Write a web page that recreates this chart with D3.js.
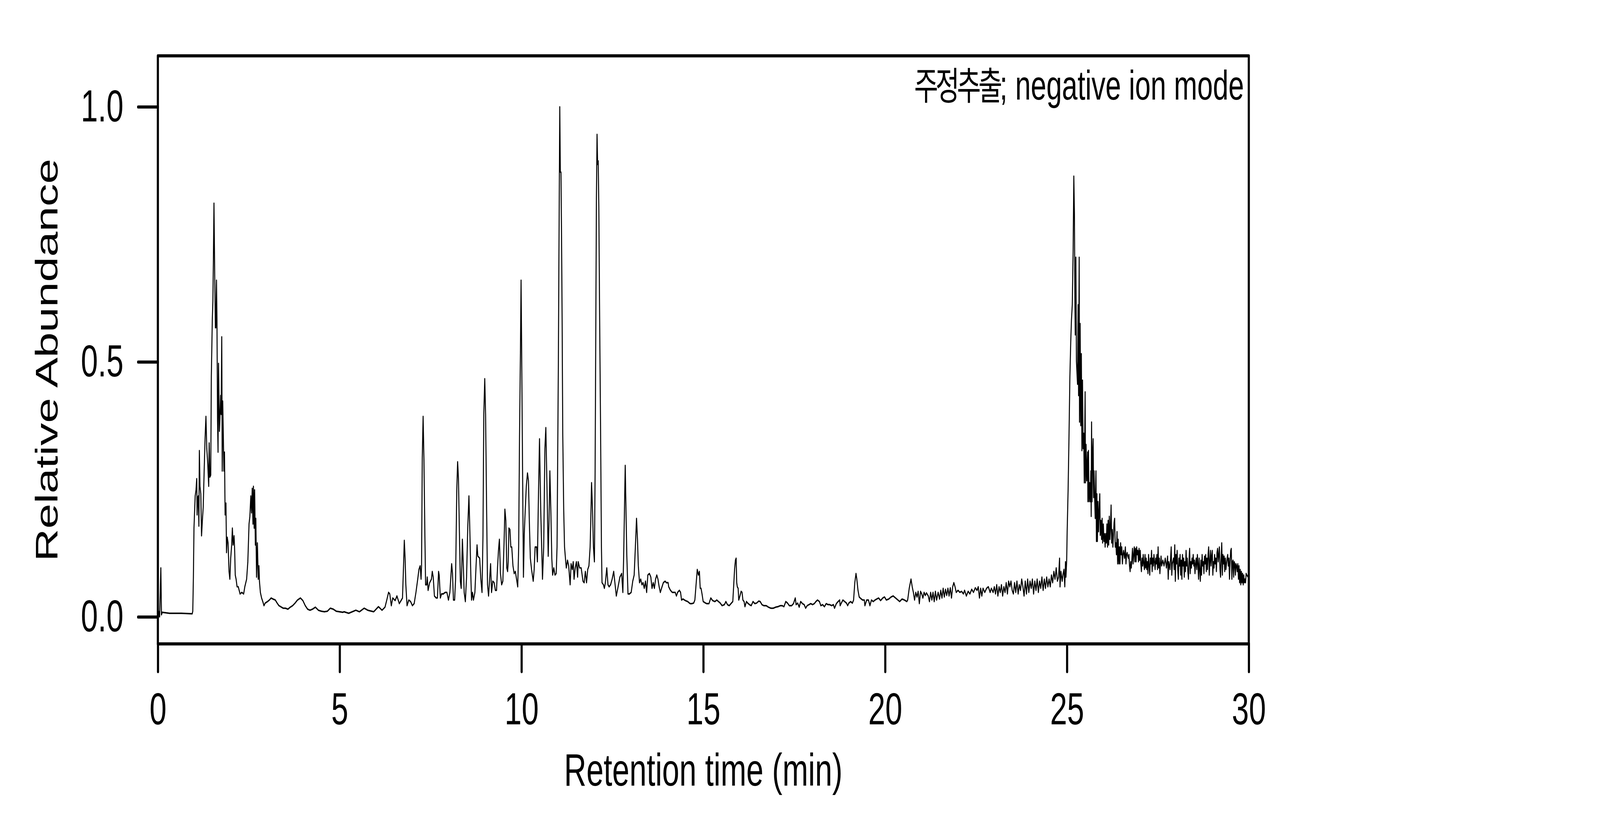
<!DOCTYPE html>
<html>
<head>
<meta charset="utf-8">
<script src="https://cdn.jsdelivr.net/npm/d3@7"></script>
<style>
  html, body { margin: 0; padding: 0; background: #fff; overflow: hidden; }
  svg { display: block; }
  text { font-family: "Liberation Sans", Arial, sans-serif; fill: #000; }
</style>
</head>
<body>
<div id="chart"></div>
<script>
// chromatogram trace, [retention time (min), relative abundance]
var earlyTrace = [
  [0.000,.004],[0.023,.011],[0.049,.000],[0.082,.096],[0.099,.004],[0.122,.009],[0.319,.007],[0.648,.007],
  [0.944,.006],[0.960,.011],[0.977,.078],[0.993,.174],[1.026,.237],[1.049,.249],[1.069,.271],[1.079,.200],
  [1.095,.234],[1.112,.237],[1.128,.178],[1.141,.326],[1.158,.256],[1.181,.241],[1.201,.159],[1.224,.189],
  [1.247,.215],[1.273,.286],[1.299,.352],[1.322,.393],[1.345,.330],[1.372,.300],[1.398,.256],[1.411,.341],
  [1.431,.274],[1.454,.278],[1.470,.471],[1.497,.582],[1.513,.619],[1.526,.694],[1.543,.811],[1.563,.671],
  [1.582,.567],[1.595,.567],[1.612,.660],[1.625,.582],[1.641,.386],[1.655,.323],[1.668,.497],[1.681,.427],
  [1.694,.364],[1.707,.389],[1.727,.434],[1.740,.397],[1.757,.549],[1.770,.286],[1.783,.423],[1.799,.360],
  [1.816,.286],[1.832,.323],[1.849,.200],[1.872,.223],[1.888,.126],[1.908,.156],[1.931,.145],[1.957,.089],
  [1.980,.074],[2.003,.115],[2.030,.141],[2.049,.174],[2.069,.141],[2.095,.159],[2.112,.130],[2.128,.082],
  [2.151,.074],[2.178,.059],[2.211,.059],[2.260,.045],[2.309,.048],[2.359,.045],[2.391,.059],[2.441,.074],
  [2.474,.108],[2.507,.182],[2.530,.197],[2.556,.237],[2.576,.204],[2.595,.252],[2.615,.182],[2.628,.256],
  [2.648,.174],[2.661,.249],[2.681,.141],[2.694,.193],[2.714,.078],[2.737,.145],[2.760,.074],[2.780,.100],
  [2.793,.070],[2.819,.048],[2.852,.037],[2.885,.030],[2.918,.022],[2.951,.027],[3.016,.030],[3.066,.033],
  [3.115,.037],[3.164,.035],[3.230,.033],[3.280,.027],[3.329,.022],[3.378,.020],[3.444,.017],[3.510,.017],
  [3.576,.015],[3.641,.019],[3.707,.022],[3.773,.027],[3.839,.033],[3.921,.037],[3.987,.032],[4.053,.022],
  [4.118,.015],[4.184,.013],[4.250,.015],[4.332,.019],[4.414,.013],[4.497,.011],[4.579,.010],[4.661,.011],
  [4.743,.017],[4.826,.015],[4.908,.011],[4.990,.010],[5.089,.009]
]
var midTrace = [
  [5.117,.010],[5.248,.007],[5.444,.013],[5.543,.010],[5.673,.017],[5.772,.013],[5.935,.010],[6.066,.020],
  [6.164,.013],[6.246,.019],[6.295,.033],[6.344,.048],[6.377,.045],[6.420,.022],[6.459,.037],[6.525,.032],
  [6.574,.041],[6.639,.026],[6.688,.032],[6.727,.037],[6.754,.096],[6.777,.150],[6.799,.115],[6.819,.063],
  [6.852,.022],[6.901,.033],[6.950,.030],[6.999,.022],[7.048,.026],[7.097,.048],[7.146,.074],[7.179,.093],
  [7.212,.100],[7.238,.074],[7.251,.100],[7.271,.312],[7.294,.393],[7.317,.308],[7.343,.159],[7.362,.063],
  [7.392,.063],[7.408,.078],[7.431,.052],[7.474,.067],[7.523,.074],[7.546,.089],[7.572,.078],[7.605,.041],
  [7.654,.037],[7.687,.037],[7.719,.089],[7.736,.082],[7.768,.037],[7.801,.045],[7.850,.045],[7.899,.048],
  [7.948,.048],[7.991,.033],[8.030,.048],[8.079,.104],[8.102,.085],[8.128,.033],[8.161,.033],[8.187,.074],
  [8.220,.249],[8.243,.304],[8.266,.271],[8.292,.167],[8.318,.070],[8.341,.056],[8.358,.100],[8.374,.152],
  [8.397,.108],[8.423,.048],[8.456,.030],[8.489,.078],[8.521,.174],[8.554,.237],[8.580,.167],[8.606,.082],
  [8.626,.033],[8.652,.048],[8.678,.033],[8.718,.048],[8.750,.100],[8.777,.141],[8.799,.119],[8.849,.115],
  [8.881,.074],[8.914,.048],[8.940,.159],[8.963,.397],[8.989,.467],[9.012,.397],[9.038,.226],[9.065,.063],
  [9.094,.041],[9.127,.078],[9.150,.104],[9.176,.048],[9.209,.070],[9.248,.067],[9.281,.052],[9.313,.052],
  [9.340,.096],[9.366,.130],[9.392,.152],[9.421,.085],[9.454,.063],[9.487,.070],[9.520,.145],[9.543,.211],
  [9.569,.189],[9.595,.096],[9.618,.089],[9.634,.108],[9.654,.174],[9.683,.171],[9.706,.137],[9.732,.137],
  [9.765,.100],[9.798,.085],[9.831,.089],[9.863,.074],[9.896,.059],[9.922,.137],[9.945,.352],[9.971,.523],
  [9.988,.660],[10.004,.523],[10.027,.308],[10.053,.078],[10.076,.163],[10.099,.204],[10.132,.256],[10.164,.282],
  [10.191,.267],[10.217,.182],[10.243,.115]
]
var peakTrace = [
  [10.276,.093],[10.322,.070],[10.348,.093],[10.374,.137],[10.414,.137],[10.437,.108],[10.463,.226],[10.495,.349],
  [10.528,.211],[10.577,.074],[10.610,.137],[10.643,.330],[10.669,.371],[10.702,.249],[10.734,.119],[10.757,.189],
  [10.780,.286],[10.806,.211],[10.833,.115],[10.856,.082],[10.888,.096],[10.921,.082],[10.954,.085],[10.977,.137],
  [10.996,.323],[11.013,.493],[11.029,.708],[11.052,1.000],[11.068,.872],[11.085,.872],[11.101,.746],[11.117,.582],
  [11.134,.360],[11.160,.211],[11.183,.137],[11.216,.108],[11.232,.096],[11.265,.111],[11.297,.100],[11.337,.063],
  [11.363,.104],[11.396,.093],[11.422,.108],[11.445,.074],[11.477,.096],[11.510,.108],[11.543,.078],[11.559,.108],
  [11.599,.096],[11.641,.096],[11.690,.070],[11.723,.067],[11.756,.089],[11.788,.067],[11.821,.093],[11.854,.100],
  [11.887,.137],[11.903,.182],[11.926,.263],[11.952,.211],[11.978,.137],[12.005,.108],[12.024,.286],[12.044,.582],
  [12.060,.820],[12.077,.946],[12.093,.887],[12.109,.894],[12.126,.805],[12.149,.582],[12.175,.360],[12.198,.137],
  [12.214,.067],[12.253,.063],[12.279,.056],[12.306,.067],[12.345,.096],[12.378,.063],[12.410,.059],[12.450,.063],
  [12.492,.074],[12.535,.089],[12.574,.063],[12.607,.041],[12.656,.059],[12.705,.078],[12.754,.085],[12.787,.048],
  [12.810,.122],[12.836,.230],[12.852,.297],[12.869,.226],[12.895,.122],[12.928,.045],[12.967,.045],[13.016,.048],
  [13.059,.070],[13.098,.082],[13.131,.137],[13.163,.193],[13.189,.152],[13.212,.100],[13.245,.067],[13.278,.074],
  [13.311,.063],[13.343,.067],[13.376,.056],[13.409,.070],[13.441,.048],[13.474,.082],[13.517,.085],[13.556,.078],
  [13.589,.056],[13.622,.067],[13.654,.056],[13.687,.074],[13.720,.082],[13.752,.074],[13.785,.059],[13.818,.048],
  [13.851,.056],[13.900,.067],[13.949,.070],[13.982,.067],[14.031,.067],[14.047,.059],[14.096,.052],[14.145,.048],
  [14.178,.048],[14.227,.048],[14.260,.041],[14.293,.048],[14.342,.052],[14.374,.048],[14.401,.033],[14.440,.035],
  [14.505,.032],[14.571,.030],[14.636,.026],[14.685,.026],[14.734,.027],[14.767,.033],[14.800,.063],[14.833,.093],
  [14.865,.082],[14.892,.089],[14.914,.056],[14.937,.056],[14.964,.045],[14.996,.030],[15.062,.027]
]
var lateTrace = [
  [15.090,.026],[15.155,.026],[15.205,.037],[15.254,.032],[15.319,.030],[15.368,.033],[15.417,.030],[15.466,.027],
  [15.516,.022],[15.581,.024],[15.620,.030],[15.663,.024],[15.712,.022],[15.761,.026],[15.810,.030],[15.836,.063],
  [15.859,.093],[15.882,.111],[15.902,.115],[15.918,.067],[15.934,.059],[15.957,.056],[15.974,.033],[16.006,.041],
  [16.039,.050],[16.065,.048],[16.088,.033],[16.121,.030],[16.144,.020],[16.186,.030],[16.219,.027],[16.268,.024],
  [16.317,.022],[16.366,.030],[16.416,.026],[16.465,.027],[16.524,.031],[16.563,.030],[16.612,.024],[16.661,.022],
  [16.727,.022],[16.792,.019],[16.857,.017],[16.923,.017],[16.988,.019],[17.054,.020],[17.119,.022],[17.168,.022],
  [17.217,.020],[17.267,.030],[17.316,.027],[17.365,.022],[17.430,.022],[17.479,.026],[17.528,.037],[17.551,.024],
  [17.594,.027],[17.636,.019],[17.676,.030],[17.725,.026],[17.774,.024],[17.813,.017],[17.856,.022],[17.905,.024],
  [17.954,.026],[18.003,.024],[18.052,.026],[18.095,.030],[18.140,.033],[18.193,.030],[18.232,.022],[18.281,.024],
  [18.330,.020],[18.379,.026],[18.428,.024],[18.477,.024],[18.527,.022],[18.576,.024],[18.608,.017],[18.658,.026],
  [18.707,.030],[18.749,.033],[18.762,.022],[18.788,.026],[18.838,.033],[18.887,.030],[18.936,.027],[18.969,.022],
  [19.001,.027],[19.050,.030],[19.099,.027],[19.132,.033],[19.165,.067],[19.198,.085],[19.221,.074],[19.253,.052],
  [19.286,.039],[19.329,.036],[19.378,.033],[19.427,.033],[19.443,.022],[19.492,.033],[19.541,.033],[19.581,.022],
  [19.623,.033],[19.672,.030],[19.721,.033],[19.770,.035],[19.820,.037],[19.875,.032],[19.934,.037],[19.983,.039],
  [20.032,.033],[20.098,.035],[20.163,.039]
]
var riseTrace = [
  [20.220,.041],[20.285,.037],[20.351,.033],[20.400,.030],[20.465,.035],[20.531,.033],[20.596,.030],[20.619,.033],
  [20.662,.056],[20.711,.074],[20.744,.059],[20.776,.048],[20.809,.033],[20.842,.048],[20.875,.039],[20.907,.050],
  [20.940,.026],[20.973,.050],[21.006,.045],[21.038,.037],[21.071,.048],[21.104,.042],[21.136,.047],[21.186,.041],
  [21.218,.030],[21.251,.048],[21.284,.033],[21.316,.048],[21.349,.030],[21.382,.050],[21.415,.033],[21.457,.048],
  [21.496,.035],[21.529,.052],[21.562,.037],[21.595,.056],[21.627,.039],[21.660,.054],[21.693,.042],[21.726,.056],
  [21.758,.041],[21.791,.057],[21.824,.037],[21.857,.059],[21.889,.067],[21.922,.059],[21.955,.048],[22.004,.052],
  [22.053,.048],[22.102,.050],[22.151,.045],[22.184,.052],[22.233,.041],[22.282,.050],[22.331,.045],[22.380,.054],
  [22.429,.048],[22.478,.057],[22.527,.052],[22.560,.059],[22.593,.037],[22.626,.056],[22.658,.041],[22.691,.056],
  [22.740,.048],[22.789,.056],[22.838,.059],[22.887,.048],[22.920,.056],[22.969,.048],[23.002,.059],[23.035,.045],
  [23.068,.063],[23.100,.041],[23.133,.059],[23.166,.048],[23.198,.063],[23.231,.041],[23.264,.059],[23.297,.048],
  [23.329,.067],[23.362,.045],[23.395,.070],[23.428,.059],[23.460,.070],[23.493,.052],[23.526,.045],[23.558,.067],
  [23.591,.048],[23.624,.070],[23.657,.045],[23.689,.063],[23.722,.052],[23.755,.074],[23.788,.059],[23.820,.041],
  [23.853,.070],[23.886,.045],[23.918,.074],[23.951,.048],[23.984,.070],[24.017,.056],[24.049,.074],[24.082,.045],
  [24.115,.070],[24.148,.052],[24.180,.074],[24.213,.048],[24.246,.070],[24.278,.056],[24.311,.078],[24.344,.052],
  [24.377,.074],[24.409,.056],[24.442,.078],[24.475,.059],[24.508,.074],[24.540,.059],[24.573,.082],[24.606,.067],
  [24.639,.089],[24.671,.074],[24.704,.096],[24.737,.070],[24.769,.078],[24.796,.115],[24.809,.059],[24.835,.089],
  [24.868,.070],[24.894,.085],[24.917,.093],[24.940,.059],[24.959,.108],[24.972,.078],[24.992,.111],[25.005,.167],
  [25.031,.249],[25.057,.360],[25.080,.471],[25.103,.538],[25.123,.582],[25.146,.612],[25.169,.716],[25.188,.864],
  [25.205,.790],[25.218,.619],[25.228,.553],[25.244,.705],[25.260,.501]
]
var tailTrace = [
  [25.290,.456],[25.306,.612],[25.319,.434],[25.336,.705],[25.345,.382],[25.362,.575],[25.378,.375],[25.395,.516],
  [25.411,.326],[25.427,.464],[25.444,.330],[25.460,.360],[25.476,.263],[25.486,.338],[25.499,.441],[25.509,.263],
  [25.525,.338],[25.542,.267],[25.568,.323],[25.575,.226],[25.591,.326],[25.607,.226],[25.624,.263],[25.640,.226],
  [25.656,.286],[25.666,.197],[25.676,.382],[25.689,.226],[25.705,.323],[25.719,.349],[25.732,.234],[25.745,.286],
  [25.764,.226],[25.777,.193],[25.797,.286],[25.810,.148],[25.823,.241],[25.836,.148],[25.853,.226],[25.869,.167],
  [25.886,.211],[25.902,.241],[25.915,.160],[25.935,.189],[25.951,.152],[25.967,.193],[25.980,.145],[26.000,.182],
  [26.016,.148],[26.033,.163],[26.049,.137],[26.066,.163],[26.082,.145],[26.098,.182],[26.115,.137],[26.131,.189],
  [26.147,.141],[26.164,.197],[26.180,.152],[26.196,.174],[26.213,.219],[26.229,.145],[26.246,.171],[26.262,.137],
  [26.278,.159],[26.295,.185],[26.311,.193],[26.327,.137],[26.344,.145],[26.360,.122],[26.376,.167],[26.393,.104],
  [26.409,.152],[26.426,.104],[26.442,.137],[26.458,.104],[26.475,.145],[26.491,.122],[26.507,.137],[26.524,.104],
  [26.540,.122],[26.556,.130],[26.583,.115],[26.606,.137],[26.622,.104],[26.638,.122],[26.655,.126],[26.671,.119],
  [26.687,.115],[26.704,.122],[26.720,.100],[26.736,.089],[26.753,.108],[26.769,.096],[26.786,.115],[26.802,.134],
  [26.818,.104],[26.835,.122],[26.851,.137],[26.867,.108],[26.884,.134],[26.900,.108],[26.916,.137],[26.933,.122],
  [26.949,.130],[26.966,.108],[26.982,.134],[26.998,.111],[27.015,.130],[27.031,.104],[27.047,.089],[27.064,.115],
  [27.080,.100],[27.096,.122],[27.113,.104],[27.129,.093],[27.146,.122],[27.162,.096],[27.178,.115],[27.195,.093],
  [27.211,.108],[27.227,.085],[27.244,.122],[27.260,.100],[27.276,.082],[27.293,.115],[27.309,.104],[27.326,.130],
  [27.342,.089],[27.358,.115],[27.375,.100],[27.391,.122],[27.407,.108],[27.424,.093],[27.440,.115],[27.456,.104],
  [27.473,.122],[27.489,.093],[27.506,.137],[27.522,.096],[27.538,.115],[27.555,.085],[27.571,.104],[27.587,.119],
  [27.604,.100],[27.636,.111],[27.669,.100],[27.702,.115],[27.735,.096],[27.767,.119],[27.784,.074],[27.800,.108],
  [27.833,.093],[27.849,.115],[27.866,.137],[27.882,.082],[27.898,.104],[27.931,.115],[27.947,.093],[27.964,.141],
  [27.980,.070],[27.996,.122],[28.013,.104],[28.029,.130],[28.046,.093],[28.062,.074],[28.078,.115],[28.095,.100],
  [28.111,.122],[28.127,.082],[28.144,.111],[28.160,.074],[28.176,.122],[28.193,.100],[28.209,.115],[28.226,.078],
  [28.242,.108],[28.258,.089],[28.275,.130],[28.291,.100],[28.307,.115],[28.324,.089],[28.340,.074],[28.356,.111],
  [28.373,.134],[28.389,.085],[28.406,.108],[28.422,.096],[28.438,.115],[28.455,.104],[28.471,.122],[28.487,.100],
  [28.504,.111],[28.520,.085],[28.536,.104],[28.553,.115],[28.569,.093],[28.586,.122],[28.602,.104],[28.618,.074],
  [28.635,.115],[28.651,.093],[28.667,.070],[28.684,.111],[28.700,.082],[28.716,.122],[28.733,.100],[28.749,.108],
  [28.766,.085],[28.782,.119],[28.798,.104],[28.815,.122],[28.831,.089],[28.847,.115],[28.864,.093],[28.880,.122],
  [28.896,.137],[28.913,.082],[28.929,.108],[28.946,.130],[28.962,.100],[28.978,.119],[28.995,.130],[29.011,.082],
  [29.027,.108],[29.044,.096],[29.060,.122],[29.076,.104],[29.093,.115],[29.109,.089],[29.126,.126],[29.142,.134],
  [29.158,.108],[29.175,.122],[29.191,.137],[29.207,.093],[29.224,.078],[29.240,.115],[29.256,.145],[29.273,.082],
  [29.289,.122],[29.306,.104],[29.322,.119],[29.338,.089],[29.355,.115],[29.371,.093],[29.387,.104],[29.404,.115],
  [29.420,.122],[29.436,.100],[29.453,.115],[29.469,.074],[29.486,.108],[29.502,.130],[29.518,.134],[29.535,.074],
  [29.551,.108],[29.567,.111],[29.584,.078],[29.600,.108],[29.616,.104],[29.633,.082],[29.649,.104],[29.666,.100],
  [29.682,.089],[29.698,.104],[29.715,.074],[29.731,.100],[29.747,.067],[29.764,.093],[29.780,.063],[29.796,.089],
  [29.813,.067],[29.829,.085],[29.846,.063],[29.862,.082],[29.878,.067],[29.895,.074],[29.911,.067],[29.927,.085],
  [29.944,.082],[29.980,.078]
]

var xTicks = [0, 5, 10, 15, 20, 25, 30]
var yTicks = [0.0, 0.5, 1.0]
var xTitle = "Retention time (min)"
var yTitle = "Relative Abundance"
var noteKo = "주정추출"
var noteEn = "; negative ion mode"

var trace = earlyTrace.concat(midTrace, peakTrace, lateTrace, riseTrace, tailTrace)

// drawn in a 6000x2100 frame, stretched to whatever window the page gets
var screen = {width: 6000, height: 2100}
var plot = {left: 592, right: 4683, top: 143, bottom: 1649}

// scales
var xScale = d3.scaleLinear()
    .domain([0, 30])
    .range([plot.left, plot.right])
var yScale = d3.scaleLinear()
    .domain([-0.053, 1.1])
    .range([plot.bottom, plot.top])

var svg = d3.select("#chart").append("svg")
    .attr("width", window.innerWidth || screen.width)
    .attr("height", window.innerHeight || screen.height)
    .attr("viewBox", "0 0 " + screen.width + " " + screen.height)
    .attr("preserveAspectRatio", "none")

svg.append("rect")
    .attr("width", screen.width)
    .attr("height", screen.height)
    .style("fill", "#fff")

// trace
var drawPath = d3.line()
    .x(function(d) { return xScale(d[0]) })
    .y(function(d) { return yScale(d[1]) })

svg.append("path")
    .attr("d", drawPath(trace))
    .style("fill", "none")
    .style("stroke", "#000")
    .style("stroke-width", 3.8)
    .style("stroke-linejoin", "round")

// frame
svg.append("rect")
    .attr("x", plot.left)
    .attr("y", plot.top)
    .attr("width", plot.right - plot.left)
    .attr("height", plot.bottom - plot.top)
    .style("fill", "none")
    .style("stroke", "#000")
    .style("stroke-width", 8)
    .style("stroke-linejoin", "round")

// axes
var xAxis = d3.axisBottom(xScale).tickValues(xTicks).tickSize(71).tickPadding(53).tickFormat(d3.format("d"))
svg.append("g")
    .attr("transform", "translate(0," + plot.bottom + ")")
    .call(xAxis)

var yAxis = d3.axisLeft(yScale).tickValues(yTicks).tickSize(74).tickPadding(55).tickFormat(d3.format(".1f"))
svg.append("g")
    .attr("transform", "translate(" + plot.left + ",0)")
    .call(yAxis)

svg.selectAll(".domain").remove()
svg.selectAll(".tick line")
    .style("stroke", "#000")
    .style("stroke-width", 8)
    .style("stroke-linecap", "round")
svg.selectAll(".tick text")
    .style("font-family", "'Liberation Sans', Arial, sans-serif")
    .style("font-size", "115px")
    .style("fill", "#000")

// axis titles
svg.append("text")
    .attr("x", (plot.left + plot.right) / 2)
    .attr("y", 2012)
    .attr("text-anchor", "middle")
    .style("font-size", "116px")
    .text(xTitle)

svg.append("text")
    .attr("transform", "translate(215,922) rotate(-90)")
    .attr("text-anchor", "middle")
    .style("font-size", "116px")
    .text(yTitle)

// note in the corner
var note = svg.append("text")
    .attr("x", 4665)
    .attr("y", 255)
    .attr("text-anchor", "end")
    .style("font-size", "105px")
note.append("tspan")
    .style("font-family", "'Noto Sans CJK KR', sans-serif")
    .style("font-size", "98px")
    .style("letter-spacing", "-10px")
    .text(noteKo)
note.append("tspan")
    .text(noteEn)
</script>
</body>
</html>
